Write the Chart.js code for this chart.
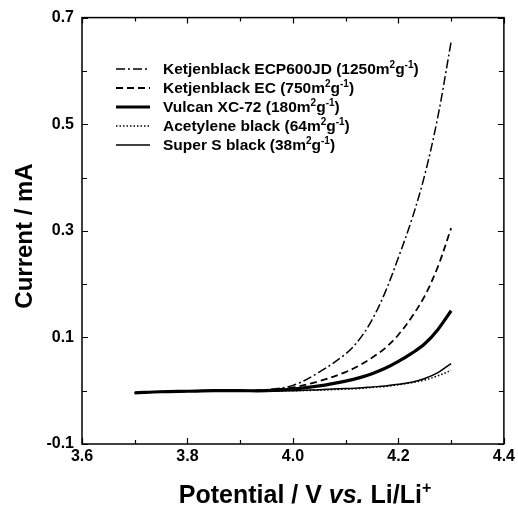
<!DOCTYPE html>
<html>
<head>
<meta charset="utf-8">
<script src="https://cdn.jsdelivr.net/npm/chart.js@4"></script>
<style>
  html, body { margin: 0; padding: 0; background: #fff; }
</style>
</head>
<body>
<canvas id="cv" width="518" height="508"></canvas>
<script>
// potential (V vs Li/Li+) and current (mA)
const potential = [3.70, 3.75, 3.80, 3.85, 3.90, 3.95, 4.00, 4.05, 4.10, 4.125, 4.15, 4.175, 4.20, 4.225, 4.25, 4.275, 4.30];
const ecp600jd  = [-0.004, -0.002, -0.001, 0.000, 0.000, 0.002, 0.010, 0.035, 0.069, 0.095, 0.133, 0.185, 0.250, 0.320, 0.405, 0.515, 0.655];
const ketjenEC  = [-0.004, -0.002, -0.001, 0.000, 0.000, 0.001, 0.006, 0.018, 0.035, 0.047, 0.062, 0.080, 0.105, 0.138, 0.178, 0.233, 0.305];
const vulcan    = [-0.004, -0.002, -0.001, 0.000, 0.000, 0.000, 0.003, 0.009, 0.018, 0.024, 0.032, 0.042, 0.055, 0.070, 0.088, 0.115, 0.150];
const acetylene = [-0.004, -0.002, -0.001, 0.000, 0.000, 0.000, 0.000, 0.001, 0.003, 0.004, 0.006, 0.008, 0.011, 0.015, 0.020, 0.028, 0.038];
const superS    = [-0.004, -0.002, -0.001, 0.000, 0.000, 0.000, 0.000, 0.002, 0.004, 0.005, 0.007, 0.009, 0.012, 0.016, 0.023, 0.034, 0.051];

const seriesNames = [
  'Ketjenblack ECP600JD (1250m^{2}g^{-1})',
  'Ketjenblack EC (750m^{2}g^{-1})',
  'Vulcan XC-72 (180m^{2}g^{-1})',
  'Acetylene black (64m^{2}g^{-1})',
  'Super S black (38m^{2}g^{-1})'
];
const xMajor = [3.6, 3.8, 4.0, 4.2, 4.4];
const yMajor = [-0.1, 0.1, 0.3, 0.5, 0.7];

const FONT = '"Liberation Sans", Arial, sans-serif';

// line styles per series
const styles = [
  { dash: [9, 3, 2, 3], width: 1.5 },
  { dash: [7, 4], width: 1.8 },
  { dash: [], width: 3.2 },
  { dash: [1.5, 2], width: 1.5 },
  { dash: [], width: 1.5 }
];

const values = [ecp600jd, ketjenEC, vulcan, acetylene, superS];
const datasets = values.map((arr, i) => ({
  label: seriesNames[i],
  data: potential.map((v, j) => ({ x: v, y: arr[j] })),
  borderColor: '#000',
  borderWidth: styles[i].width,
  borderDash: styles[i].dash,
  pointRadius: 0,
  fill: false,
  tension: 0.35
}));

const isMajor = (list, v) => list.some(m => Math.abs(m - v) < 1e-6);

// split "text^{sup}*italic*" into pieces
function pieces(str) {
  const out = [];
  const re = /\^\{([^}]*)\}|\*([^*]*)\*/g;
  let last = 0, m;
  while ((m = re.exec(str))) {
    if (m.index > last) out.push({ t: str.slice(last, m.index) });
    if (m[1] !== undefined) out.push({ t: m[1], sup: true });
    else out.push({ t: m[2], it: true });
    last = re.lastIndex;
  }
  if (last < str.length) out.push({ t: str.slice(last) });
  return out;
}

function drawRich(ctx, str, x, y, size, align) {
  const parts = pieces(str);
  const fontOf = p => (p.it ? 'italic ' : '') + 'bold ' + (p.sup ? Math.round(size * 0.62) : size) + 'px ' + FONT;
  let total = 0;
  parts.forEach(p => { ctx.font = fontOf(p); p.w = ctx.measureText(p.t).width; total += p.w; });
  let cx = align === 'center' ? x - total / 2 : x;
  ctx.textBaseline = 'alphabetic';
  ctx.textAlign = 'left';
  parts.forEach(p => {
    ctx.font = fontOf(p);
    ctx.fillText(p.t, cx, p.sup ? y - size * 0.4 : y);
    cx += p.w;
  });
}

const frame = {
  id: 'frame',
  afterDraw(chart) {
    const { ctx, chartArea: a, scales: { x, y } } = chart;
    ctx.save();
    ctx.strokeStyle = '#000';
    ctx.fillStyle = '#000';
    ctx.setLineDash([]);
    ctx.lineWidth = 1.5;
    ctx.strokeRect(a.left, a.top, a.right - a.left, a.bottom - a.top);

    // inward ticks on all four sides
    ctx.lineWidth = 1.2;
    ctx.beginPath();
    x.ticks.forEach(t => {
      const px = Math.round(x.getPixelForValue(t.value)) + 0.5;
      const len = isMajor(xMajor, t.value) ? 6 : 4;
      ctx.moveTo(px, a.bottom); ctx.lineTo(px, a.bottom - len);
      ctx.moveTo(px, a.top); ctx.lineTo(px, a.top + len);
    });
    y.ticks.forEach(t => {
      const py = Math.round(y.getPixelForValue(t.value)) + 0.5;
      const len = isMajor(yMajor, t.value) ? 6 : 5;
      ctx.moveTo(a.left, py); ctx.lineTo(a.left + len, py);
      ctx.moveTo(a.right, py); ctx.lineTo(a.right - len, py);
    });
    ctx.stroke();

    // legend inside the plot
    const rowY = [69, 88, 107, 126, 145];
    chart.data.datasets.forEach((ds, i) => {
      ctx.beginPath();
      ctx.lineWidth = ds.borderWidth;
      ctx.setLineDash(ds.borderDash);
      ctx.moveTo(116, rowY[i]);
      ctx.lineTo(150, rowY[i]);
      ctx.stroke();
      ctx.setLineDash([]);
      drawRich(ctx, ds.label, 163, rowY[i] + 5, 15.5, 'left');
    });

    // axis titles
    drawRich(ctx, 'Potential / V *vs.* Li/Li^{+}', 305, 503, 25, 'center');
    ctx.save();
    ctx.translate(32, 236);
    ctx.rotate(-Math.PI / 2);
    drawRich(ctx, 'Current / mA', 0, 0, 24, 'center');
    ctx.restore();

    ctx.restore();
  }
};

new Chart(document.getElementById('cv'), {
  type: 'line',
  data: { datasets },
  plugins: [frame],
  options: {
    responsive: false,
    animation: false,
    layout: { padding: { top: 17, right: 13, left: 0, bottom: 0 } },
    plugins: { legend: { display: false }, tooltip: { enabled: false } },
    scales: {
      x: {
        type: 'linear', min: 3.6, max: 4.4,
        grid: { display: false, drawTicks: false }, border: { display: false },
        ticks: {
          stepSize: 0.1, padding: 3, color: '#000', maxRotation: 0, autoSkip: false,
          font: { family: FONT, size: 16, weight: 'bold' },
          callback: v => isMajor(xMajor, v) ? v.toFixed(1) : ''
        },
        afterFit: s => { s.height = 64; }
      },
      y: {
        type: 'linear', min: -0.1, max: 0.7,
        grid: { display: false, drawTicks: false }, border: { display: false },
        ticks: {
          stepSize: 0.1, padding: 8, color: '#000', autoSkip: false,
          font: { family: FONT, size: 16, weight: 'bold' },
          callback: v => isMajor(yMajor, v) ? v.toFixed(1) : ''
        },
        afterFit: s => { s.width = 82; }
      }
    }
  }
});
</script>
</body>
</html>
